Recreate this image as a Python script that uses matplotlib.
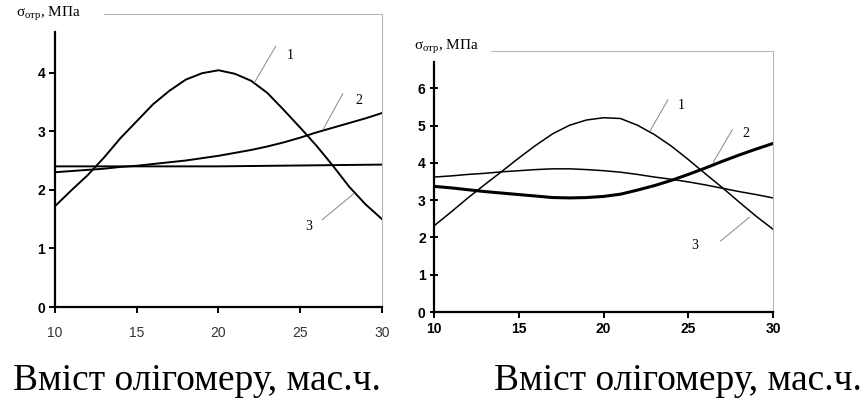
import matplotlib.pyplot as plt

plt.rcParams['mathtext.fontset'] = 'custom'
plt.rcParams['mathtext.rm'] = 'Liberation Serif'
plt.rcParams['mathtext.it'] = 'Liberation Serif:italic'

# Data
x = list(range(10, 31))

# left chart
left_1 = [1.72, 1.99, 2.25, 2.55, 2.88, 3.17, 3.46, 3.69, 3.88, 3.99, 4.04,
          3.98, 3.86, 3.65, 3.36, 3.06, 2.75, 2.41, 2.05, 1.75, 1.50]
left_2 = [2.30, 2.32, 2.34, 2.36, 2.39, 2.41, 2.44, 2.47, 2.50, 2.54, 2.58,
          2.63, 2.68, 2.74, 2.81, 2.89, 2.98, 3.06, 3.14, 3.22, 3.31]
left_3_x = [10, 20, 30]
left_3 = [2.40, 2.40, 2.43]

# right chart
right_1 = [2.31, 2.68, 3.06, 3.42, 3.77, 4.13, 4.47, 4.78, 5.01, 5.15, 5.21,
           5.19, 5.01, 4.76, 4.45, 4.09, 3.71, 3.34, 2.95, 2.57, 2.22]
right_2 = [3.37, 3.33, 3.28, 3.23, 3.19, 3.15, 3.11, 3.07, 3.06, 3.07, 3.10,
           3.16, 3.27, 3.39, 3.53, 3.69, 3.86, 4.04, 4.21, 4.37, 4.52]
right_3 = [3.62, 3.65, 3.69, 3.72, 3.76, 3.79, 3.82, 3.84, 3.84, 3.82, 3.79,
           3.75, 3.69, 3.62, 3.56, 3.49, 3.41, 3.32, 3.23, 3.15, 3.06]

x_ticks = [10, 15, 20, 25, 30]
left_yticks = [0, 1, 2, 3, 4]
right_yticks = [0, 1, 2, 3, 4, 5, 6]

# curve labels: (text, label pos, leader start, leader end)
left_labels = [("1", (24.4, 4.30), (23.5, 4.45), (22.2, 3.83)),
               ("2", (28.6, 3.52), (27.6, 3.64), (26.4, 3.03)),
               ("3", (25.5, 1.38), (26.35, 1.49), (28.3, 1.94))]
right_labels = [("1", (24.6, 5.55), (23.8, 5.69), (22.76, 4.87)),
                ("2", (28.4, 4.80), (27.6, 4.89), (26.48, 4.02)),
                ("3", (25.4, 1.78), (26.9, 1.90), (28.6, 2.54))]

xlabel = "Вміст олігомеру, мас.ч."
ylabel = "σ$_{\\mathregular{отр}}$, МПа"

tick_font = ['Liberation Sans Narrow', 'Liberation Sans', 'DejaVu Sans']
serif = ['Liberation Serif', 'DejaVu Serif']

fig = plt.figure(figsize=(8.67, 4.01), dpi=100)
ax1 = fig.add_axes([0.0634, 0.2344, 0.3772, 0.7307])
ax2 = fig.add_axes([0.5006, 0.2219, 0.3910, 0.6509])


def style(ax, ymax, spine_top, top_start, yticks, bold_x):
    ax.set_xlim(10, 30)
    ax.set_ylim(0, ymax)
    ax.set_xticks(x_ticks)
    ax.set_yticks(yticks)
    for s in ['left', 'bottom']:
        ax.spines[s].set_linewidth(1.6)
        ax.spines[s].set_color('black')
    ax.spines['left'].set_bounds(0, spine_top)
    for s in ['top', 'right']:
        ax.spines[s].set_linewidth(0.8)
        ax.spines[s].set_color('#b8b8b8')
    ax.spines['top'].set_bounds(top_start, 30)
    ax.tick_params(axis='both', length=4, width=1.4, direction='out', pad=3)
    for lab in ax.get_yticklabels():
        lab.set_family(tick_font)
        lab.set_fontweight('bold')
        lab.set_fontsize(10)
    for lab in ax.get_xticklabels():
        lab.set_family(tick_font)
        lab.set_fontsize(10)
        if bold_x:
            lab.set_fontweight('bold')
        else:
            lab.set_color('#333333')


def labels(ax, items):
    for txt, pos, p0, p1 in items:
        ax.plot([p0[0], p1[0]], [p0[1], p1[1]], color='#888888', lw=0.7)
        ax.text(pos[0], pos[1], txt, family=serif, fontsize=10,
                ha='center', va='center')


# left chart
ax1.plot(x, left_1, color='black', lw=1.4)
ax1.plot(x, left_2, color='black', lw=1.4)
ax1.plot(left_3_x, left_3, color='black', lw=1.4)
style(ax1, 5.0, 4.7, 13.0, left_yticks, False)
ax1.tick_params(axis='x', pad=10)
labels(ax1, left_labels)
fig.text(0.019, 0.965, ylabel, family=serif, fontsize=11, ha='left', va='center')

# right chart
ax2.plot(x, right_1, color='black', lw=1.1)
ax2.plot(x, right_2, color='black', lw=2.2)
ax2.plot(x, right_3, color='black', lw=1.1)
style(ax2, 7.0, 6.7, 13.36, right_yticks, True)
ax2.tick_params(axis='y', direction='inout', length=6)
labels(ax2, right_labels)
fig.text(0.477, 0.882, ylabel, family=serif, fontsize=11, ha='left', va='center')

# bottom captions
fig.text(0.015, 0.027, xlabel, family=serif, fontsize=27, ha='left', va='baseline')
fig.text(0.570, 0.027, xlabel, family=serif, fontsize=27, ha='left', va='baseline')

fig.savefig('out.png', dpi=100)
